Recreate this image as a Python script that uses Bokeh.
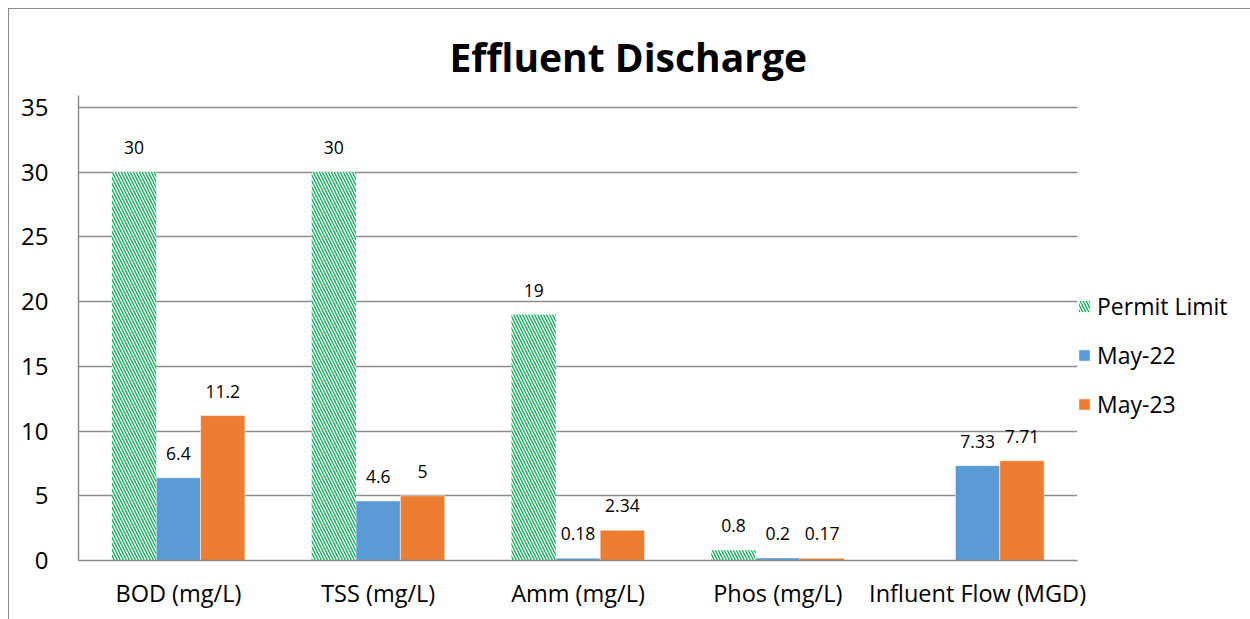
from bokeh.plotting import figure
from bokeh.models import ColumnDataSource, FactorRange, Legend, LegendItem, LabelSet, Range1d, FixedTicker
from bokeh.core.properties import value
from bokeh.transform import dodge
from bokeh.embed import file_html
from bokeh.resources import INLINE

categories = ["BOD (mg/L)", "TSS (mg/L)", "Amm (mg/L)", "Phos (mg/L)", "Influent Flow (MGD)"]
permit_limit = [30, 30, 19, 0.8, None]
may_22 = [6.4, 4.6, 0.18, 0.2, 7.33]
may_23 = [11.2, 5, 2.34, 0.17, 7.71]
y_ticks = [0, 5, 10, 15, 20, 25, 30, 35]

FONT = "Open Sans"
BW = 0.222


def src(vals):
    cats = [c for c, v in zip(categories, vals) if v is not None]
    vs = [v for v in vals if v is not None]
    return ColumnDataSource(dict(cat=cats, val=vs, lab=[f"{v:g}" for v in vs]))


s_perm = src(permit_limit)
s_22 = src(may_22)
s_23 = src(may_23)

p = figure(x_range=FactorRange(*categories), y_range=Range1d(0, 35.93),
           frame_width=999, frame_height=465, output_backend="svg", toolbar_location=None,
           min_border_left=78, min_border_right=173, min_border_top=95, min_border_bottom=59)
p.border_fill_alpha = 0
p.background_fill_color = "white"
p.styles = {
    "background": "linear-gradient(#8c8c8c,#8c8c8c) 8px 8px / 1px 100% no-repeat, "
                  "linear-gradient(#8c8c8c,#8c8c8c) 8px 8px / 100% 1px no-repeat, white",
}

p.title.text = "Effluent Discharge"
p.title.text_font = FONT
p.title.text_font_size = "39px"
p.title.text_font_style = "bold"
p.title.align = "left"
p.title.offset = 371
p.title.standoff = 25
p.title.text_color = "black"

r_perm = p.vbar(x=dodge("cat", -BW, range=p.x_range), top="val", width=BW, source=s_perm,
                fill_color="white", line_color=None, hatch_pattern="\\", hatch_color="#00B050",
                hatch_scale=6, hatch_weight=1.3)
r_22 = p.vbar(x=dodge("cat", 0, range=p.x_range), top="val", width=BW, source=s_22,
              fill_color="#5B9BD5", line_color="white", line_width=0.5)
r_23 = p.vbar(x=dodge("cat", BW, range=p.x_range), top="val", width=BW, source=s_23,
              fill_color="#ED7D31", line_color="white", line_width=0.5)

for s, off in ((s_perm, -BW), (s_22, 0), (s_23, BW)):
    p.add_layout(LabelSet(x=dodge("cat", off, range=p.x_range), y="val", text="lab", source=s,
                          text_align="center", text_baseline="bottom", y_offset=18,
                          text_font=value(FONT), text_font_size=value("17.5px"), text_color="black"))

p.yaxis.ticker = FixedTicker(ticks=y_ticks)
p.yaxis.major_label_text_font = FONT
p.yaxis.major_label_text_font_size = "24px"
p.yaxis.major_label_text_color = "black"
p.yaxis.major_label_standoff = 24
p.yaxis.axis_line_color = "#8c8c8c"
p.yaxis.axis_line_width = 1.5
p.yaxis.major_tick_line_color = None
p.yaxis.minor_tick_line_color = None

p.xaxis.major_label_text_font = FONT
p.xaxis.major_label_text_font_size = "23.5px"
p.xaxis.major_label_text_color = "black"
p.xaxis.major_label_standoff = 10
p.xaxis.axis_line_color = "#8c8c8c"
p.xaxis.axis_line_width = 1.5
p.xaxis.major_tick_line_color = None
p.xaxis.minor_tick_line_color = None

p.xgrid.grid_line_color = None
p.ygrid.grid_line_color = "#8c8c8c"
p.ygrid.grid_line_width = 1.5
p.outline_line_color = None
p.x_range.range_padding = 0
p.x_range.factor_padding = 0

legend = Legend(items=[LegendItem(label="Permit Limit", renderers=[r_perm]),
                       LegendItem(label="May-22", renderers=[r_22]),
                       LegendItem(label="May-23", renderers=[r_23])],
                location="top_left", orientation="vertical",
                title=" ", title_text_font_size="20px", title_standoff=172,
                label_text_font=FONT, label_text_font_size="23px", label_text_color="black",
                glyph_width=14, glyph_height=14, label_height=24, spacing=17,
                label_standoff=6, padding=0, margin=0, border_line_color=None,
                background_fill_alpha=0)
p.add_layout(legend, "right")

open("out.html", "w").write(file_html(p, INLINE))
